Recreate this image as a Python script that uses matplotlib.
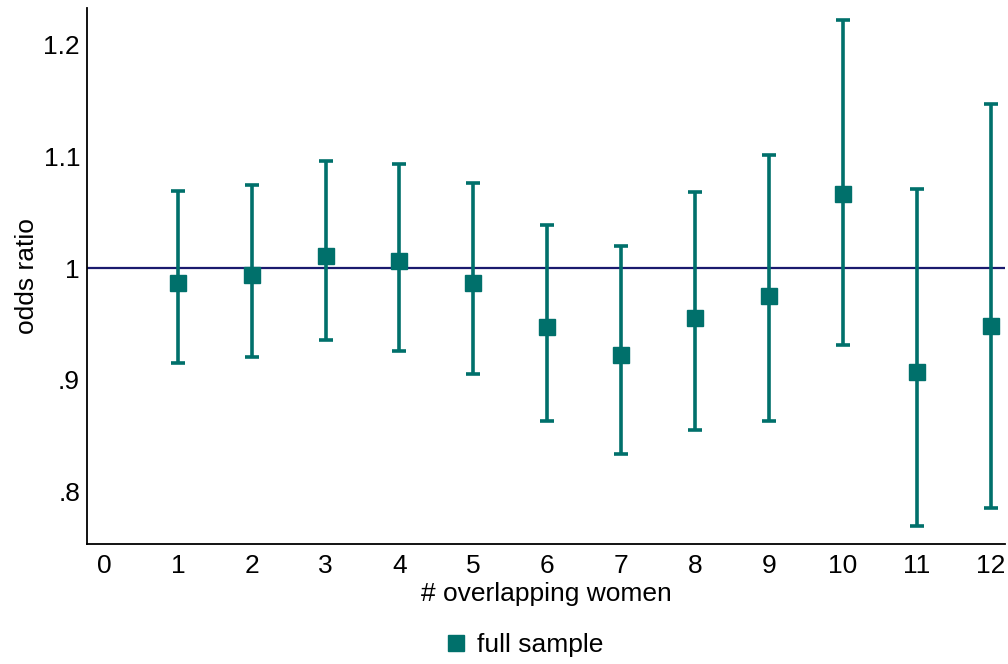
import matplotlib.pyplot as plt
from matplotlib.lines import Line2D

# odds ratios by number of overlapping women
overlap = [1, 2, 3, 4, 5, 6, 7, 8, 9, 10, 11, 12]
odds = [0.987, 0.994, 1.011, 1.006, 0.987, 0.947, 0.922, 0.955, 0.975, 1.066, 0.907, 0.948]
ci_low = [0.915, 0.920, 0.935, 0.926, 0.905, 0.863, 0.833, 0.855, 0.863, 0.931, 0.769, 0.785]
ci_high = [1.069, 1.074, 1.096, 1.093, 1.076, 1.039, 1.020, 1.068, 1.101, 1.222, 1.071, 1.147]

yticks = [0.8, 0.9, 1.0, 1.1, 1.2]
ylabels = ['.8', '.9', '1', '1.1', '1.2']

teal = '#00706b'
plt.rcParams['font.family'] = ['Liberation Sans', 'DejaVu Sans']

fig = plt.figure(figsize=(10.08, 6.64), dpi=100)
ax = fig.add_axes([0.0863, 0.1807, 0.911, 0.807])

err = [[o - l for o, l in zip(odds, ci_low)], [h - o for o, h in zip(odds, ci_high)]]
ax.errorbar(overlap, odds, yerr=err, fmt='s', color=teal, ms=11, elinewidth=2.6,
            capsize=5.3, capthick=2.6, zorder=3)
ax.axhline(1.0, color='#1a1a6e', lw=1.6, zorder=2)

ax.set_xlim(-0.23, 12.2)
ax.set_ylim(0.7525, 1.233)
ax.set_xticks(range(0, 13))
ax.set_yticks(yticks)
ax.set_yticklabels(ylabels)
ax.tick_params(length=0, labelsize=19)
ax.tick_params(axis='y', pad=5)
ax.tick_params(axis='x', pad=7)
for s in ['top', 'right']:
    ax.spines[s].set_visible(False)
for s in ['left', 'bottom']:
    ax.spines[s].set_linewidth(1.3)

ax.set_xlabel('# overlapping women', fontsize=19, labelpad=3)
ax.set_ylabel('odds ratio', fontsize=19, labelpad=3)

handle = Line2D([], [], marker='s', ls='none', color=teal, ms=11)
fig.legend([handle], ['full sample'], loc='center', bbox_to_anchor=(0.519, 0.029),
           frameon=False, fontsize=19, handletextpad=0.3, handlelength=1.0)

plt.savefig('out.png', dpi=100)
